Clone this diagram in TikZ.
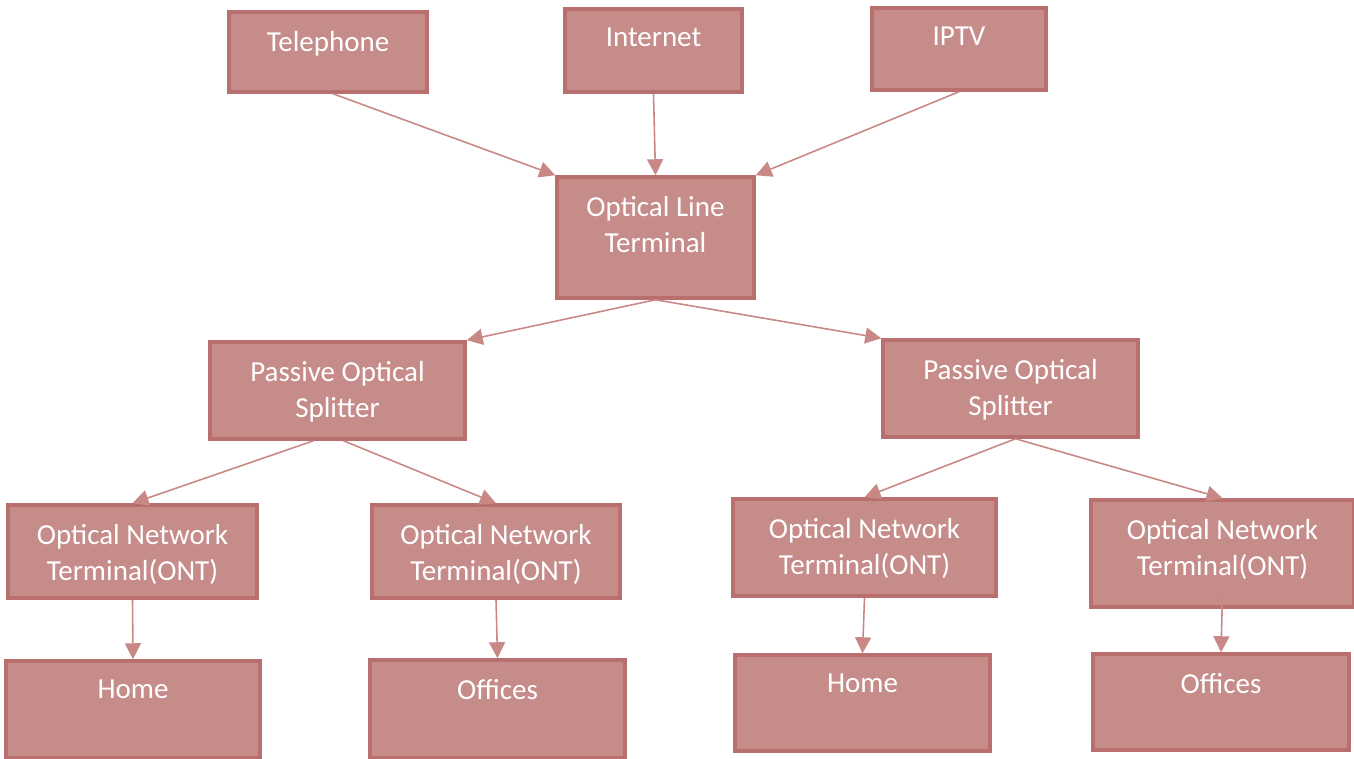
\documentclass[tikz,border=0pt]{standalone}
\usepackage{fontspec}
\setmainfont{Carlito}
\usetikzlibrary{arrows.meta,fit}
\definecolor{boxfill}{RGB}{198,140,138}
\definecolor{boxline}{RGB}{185,111,109}
\definecolor{arrowline}{RGB}{201,136,134}
\tikzset{
  blk/.style={draw=boxline, fill=boxfill, line width=2pt, inner sep=0pt},
  lbl/.style={anchor=north, yshift=-0.41cm, inner sep=0pt, text=white, align=center,
    font=\fontsize{16.5}{20.5}\selectfont},
  arr/.style={draw=arrowline, line width=0.9pt, -{Triangle[length=0.32cm,width=0.32cm]}}
}
\begin{document}
\begin{tikzpicture}[x=0.02cm,y=-0.02cm]
  \useasboundingbox (0,0) rectangle (1354,758);

  %% services
  \node[blk, fit={(229,12)(427,92)}, label={[lbl]north:Telephone}] (tel) {};
  \node[blk, fit={(565,9)(742,92)}, label={[lbl]north:Internet}] (inet) {};
  \node[blk, fit={(872,8)(1046,90)}, label={[lbl]north:IPTV}] (iptv) {};

  %% OLT
  \node[blk, fit={(557,177)(754,298)}, label={[lbl]north:Optical Line\\Terminal}] (olt) {};

  %% splitters
  \node[blk, fit={(210,342)(465,439)}, label={[lbl]north:Passive Optical\\Splitter}] (psl) {};
  \node[blk, fit={(883,340)(1138,437)}, label={[lbl]north:Passive Optical\\Splitter}] (psr) {};

  %% ONTs
  \node[blk, fit={(8,505)(257,598)}, label={[lbl]north:Optical Network\\Terminal(ONT)}] (ont1) {};
  \node[blk, fit={(372,505)(620,598)}, label={[lbl]north:Optical Network\\Terminal(ONT)}] (ont2) {};
  \node[blk, fit={(733,499)(996,596)}, label={[lbl]north:Optical Network\\Terminal(ONT)}] (ont3) {};
  \node[blk, fit={(1091,500)(1354,607)}, label={[lbl]north:Optical Network\\Terminal(ONT)}] (ont4) {};

  %% users
  \node[blk, fit={(6,661)(260,758)}, label={[lbl]north:Home}] (home1) {};
  \node[blk, fit={(370,660)(625,758)}, label={[lbl]north:Offices}] (off1) {};
  \node[blk, fit={(735,655)(990,751)}, label={[lbl]north:Home}] (home2) {};
  \node[blk, fit={(1093,654)(1349,750)}, label={[lbl]north:Offices}] (off2) {};

  %% arrows
  \draw[arr] ([xshift=0.1cm]tel.south) -- (olt.north west);
  \draw[arr] (inet.south) -- (olt.north);
  \draw[arr] (iptv.south) -- (olt.north east);
  \draw[arr] (olt.south) -- (psl.north east);
  \draw[arr] (olt.south) -- (psr.north west);
  \draw[arr] ([xshift=-0.48cm]psl.south) -- (ont1.north);
  \draw[arr] ([xshift=0.12cm]psl.south) -- (ont2.north);
  \draw[arr] ([xshift=0.1cm]psr.south) -- (ont3.north);
  \draw[arr] ([xshift=0.1cm]psr.south) -- (ont4.north);
  \draw[arr] (ont1.south) -- (home1.north);
  \draw[arr] (ont2.south) -- (off1.north);
  \draw[arr] (ont3.south) -- (home2.north);
  \draw[arr] ([yshift=0.3cm]ont4.south) -- (off2.north);

\end{tikzpicture}
\end{document}
